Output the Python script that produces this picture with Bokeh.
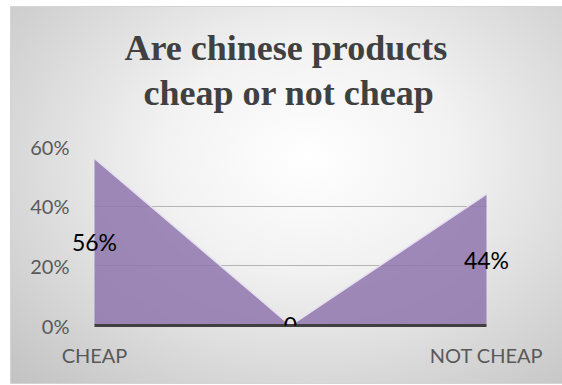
from bokeh.plotting import figure
from bokeh.models import Range1d, FixedTicker, Title, Grid, ColumnDataSource, LabelSet
from bokeh.core.properties import value
from bokeh.embed import file_html
from bokeh.resources import INLINE

# ---- data ----
categories = ["CHEAP", "", "NOT CHEAP"]
shares = [0.56, 0.0, 0.44]
data_labels = ["56%", "0", "44%"]
y_ticks = [0.0, 0.2, 0.4, 0.6]
y_tick_labels = ["0%", "20%", "40%", "60%"]
title_lines = ["Are chinese products", "cheap or not cheap"]

xs = list(range(len(categories)))
src = ColumnDataSource(dict(
    x=xs,
    y=shares,
    base=[0.0] * len(shares),
    mid=[v / 2 for v in shares],
    lab=data_labels,
))

# layout (pixels): frame spans x 66..520, y 146..325; categories sit at 94 and 486
FR_L, FR_R, CAT_L, CAT_R = 66, 520, 94, 486
ppu = (CAT_R - CAT_L) / (len(categories) - 1)
x_start = xs[0] - (CAT_L - FR_L) / ppu
x_end = xs[-1] + (FR_R - CAT_R) / ppu

W, H = 562, 385
p = figure(width=W, height=H, output_backend="svg", toolbar_location=None,
           x_range=Range1d(x_start, x_end),
           y_range=Range1d(y_ticks[0], y_ticks[-1]),
           min_border_left=FR_L, min_border_right=W - FR_R,
           min_border_bottom=H - 325, min_border_top=146)

p.title.visible = False

p.styles = {"background": (
    "radial-gradient(ellipse farthest-corner at 54% 40%, #ffffff 0%, #f2f2f2 35%, #c2c2c2 100%) 11px 7px / 551px 376px no-repeat, "
    "linear-gradient(#d4d4d4, #d4d4d4) 10px 6px / 552px 378px no-repeat, #ffffff")}
p.border_fill_alpha = 0
p.background_fill_alpha = 0
p.outline_line_color = None

# spacer between the frame and the title block
p.add_layout(Title(text=" ", text_font_size="1px", standoff=29), "above")
# title (two lines); the one added last sits on top
for line, so, off in ((title_lines[1], 3, 77), (title_lines[0], 4, 58)):
    p.add_layout(Title(text=line, align="left", text_font="Liberation Serif",
                       text_font_style="bold", text_font_size="36px",
                       text_color="#404040", standoff=so, offset=off), "above")

# area
p.varea(x="x", y1="base", y2="y", source=src, fill_color="#8E75AD", fill_alpha=0.85)
p.line(x="x", y="y", source=src, line_color="#e6dff0", line_width=1.5)

# data labels
labels = LabelSet(x="x", y="mid", text="lab", source=src, text_align="center",
                  text_baseline="middle", text_font=value("Lato"),
                  text_font_size="23px", text_color="#000000")
p.add_layout(labels)

# grids
p.xgrid.visible = False
p.ygrid.ticker = FixedTicker(ticks=y_ticks[1:-1])
p.ygrid.grid_line_color = "#b4b4b4"
p.ygrid.cross_bounds = (xs[0], xs[-1])
p.add_layout(Grid(dimension=1, ticker=FixedTicker(ticks=y_ticks[-1:]),
                  grid_line_color="#e2e2e2", cross_bounds=(xs[0], xs[-1])))

# x axis
p.xaxis.ticker = FixedTicker(ticks=xs)
p.xaxis.bounds = (xs[0], xs[-1])
p.xaxis.major_label_overrides = {i: c for i, c in zip(xs, categories)}
p.xaxis.axis_line_color = "#404040"
p.xaxis.axis_line_width = 3
p.xaxis.major_tick_line_color = None
p.xaxis.minor_tick_line_color = None
p.xaxis.major_label_standoff = 11
p.xaxis.major_label_text_font = "Lato"
p.xaxis.major_label_text_font_size = "20px"
p.xaxis.major_label_text_color = "#595959"

# y axis
p.yaxis.ticker = FixedTicker(ticks=y_ticks)
p.yaxis.major_label_overrides = {v: l for v, l in zip(y_ticks, y_tick_labels)}
p.yaxis.axis_line_color = None
p.yaxis.major_tick_line_color = None
p.yaxis.minor_tick_line_color = None
p.yaxis.major_label_standoff = -9
p.yaxis.major_label_text_font = "Lato"
p.yaxis.major_label_text_font_size = "20px"
p.yaxis.major_label_text_color = "#595959"

open("out.html", "w").write(file_html(p, INLINE))
